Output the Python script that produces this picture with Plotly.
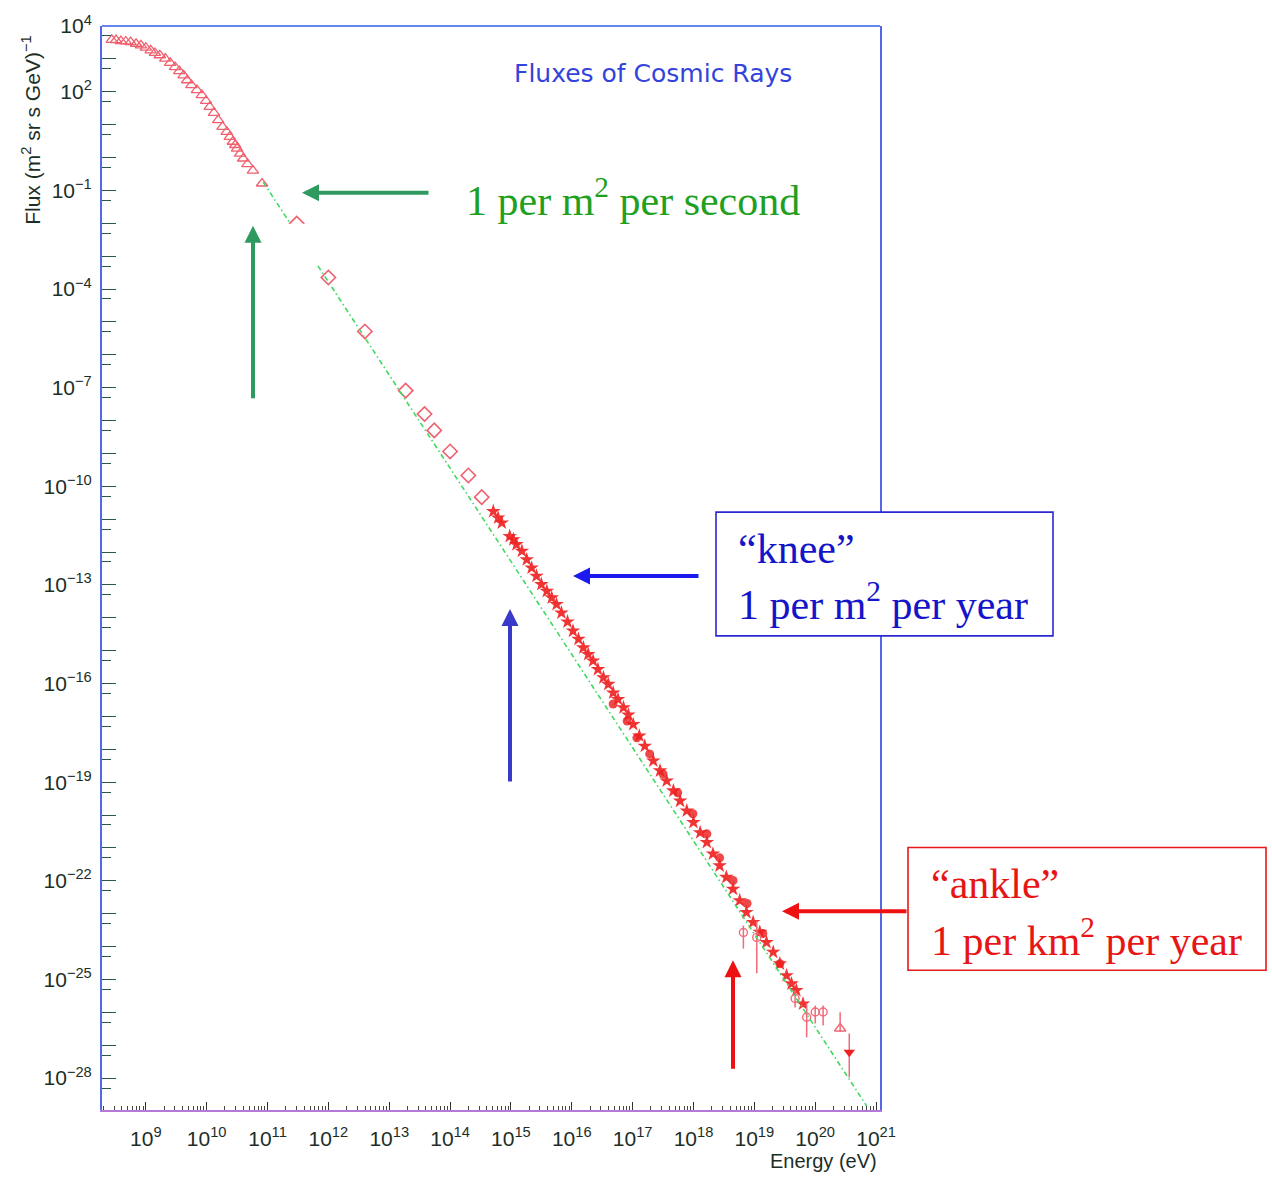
import plotly.graph_objects as go

# ---------------- data (log10 values) ----------------
# low-energy spectrum (open triangles)
tri_logE = [8.44, 8.51, 8.59, 8.67, 8.75, 8.84, 8.92, 9.00, 9.08, 9.15, 9.23, 9.32,
            9.40, 9.48, 9.55, 9.62, 9.68, 9.75, 9.84, 9.92, 9.99, 10.05, 10.12, 10.19,
            10.26, 10.33, 10.38, 10.43, 10.47, 10.50, 10.55, 10.60, 10.67, 10.76, 10.91]
tri_logF = [3.58, 3.57, 3.54, 3.53, 3.51, 3.46, 3.41, 3.34, 3.26, 3.18, 3.11, 3.01,
            2.88, 2.75, 2.63, 2.50, 2.35, 2.20, 2.05, 1.90, 1.72, 1.54, 1.36, 1.14,
            0.93, 0.78, 0.63, 0.48, 0.38, 0.27, 0.12, -0.03, -0.20, -0.40, -0.79]

# direct measurements (open diamonds)
dia_logE = [11.48, 12.00, 12.60, 13.27, 13.58, 13.74, 14.00, 14.30, 14.52]
dia_logF = [-2.01, -3.65, -5.29, -7.09, -7.80, -8.30, -8.94, -9.67, -10.33]

# air-shower data (filled markers)
band_logE = [14.71, 14.79, 14.85, 14.98, 15.04, 15.09, 15.18, 15.26, 15.34, 15.42,
             15.50, 15.59, 15.67, 15.75, 15.83, 15.93, 16.02, 16.11, 16.19, 16.27,
             16.35, 16.43, 16.52, 16.60, 16.68, 16.76, 16.85, 16.93, 17.01, 17.11,
             17.20, 17.34, 17.45, 17.56, 17.67, 17.78, 17.89, 18.00, 18.11, 18.22,
             18.32, 18.43, 18.54, 18.65, 18.76, 18.87, 18.98, 19.09, 19.20, 19.31,
             19.42, 19.53, 19.61, 19.69, 19.80]
band_logF = [-10.76, -10.96, -11.11, -11.52, -11.62, -11.77, -11.97, -12.23, -12.48, -12.73,
             -12.98, -13.19, -13.39, -13.59, -13.85, -14.12, -14.40, -14.65, -14.91, -15.11,
             -15.31, -15.57, -15.82, -16.02, -16.28, -16.48, -16.73, -16.95, -17.24, -17.59,
             -17.90, -18.35, -18.65, -18.96, -19.26, -19.57, -19.87, -20.22, -20.53, -20.83,
             -21.18, -21.54, -21.89, -22.25, -22.60, -22.96, -23.26, -23.56, -23.87, -24.17,
             -24.52, -24.88, -25.13, -25.33, -25.74]

# second air-shower data set (filled circles)
b2_logE = [16.68, 16.91, 17.07, 17.28, 17.50, 17.74, 17.99, 18.22, 18.43, 18.65, 18.88, 19.14, 19.42]
b2_logF = [-16.62, -17.14, -17.65, -18.14, -18.75, -19.32, -19.96, -20.57, -21.30, -21.99,
           -22.69, -23.60, -24.52]

# highest energies with error bars (open circles)
uh_logE = [18.82, 19.04, 19.67, 19.86, 20.00, 20.13]
uh_logF = [-23.57, -23.72, -25.58, -26.15, -25.99, -25.99]
uh_logHi = [-23.36, -23.23, -25.33, -25.73, -25.79, -25.79]
uh_logLo = [-24.06, -24.81, -25.85, -26.76, -26.34, -26.40]

# last two points
end_tri_logE, end_tri_logF, end_tri_hi, end_tri_lo = [20.41], [-26.49], [-26.00], [-26.60]
end_dn_logE, end_dn_logF, end_dn_hi, end_dn_lo = [20.56], [-27.21], [-26.64], [-27.98]

# power-law guide line (end points)
fit_logE = [10.93, 20.85]
fit_logF = [-0.75, -28.86]

# axis ticks
x_label_exps = list(range(9, 22))
y_label_exps = [4, 2, -1, -4, -7, -10, -13, -16, -19, -22, -25, -28]
y_all_exps = list(range(-28, 5))

# ---------------- figure ----------------
W, H = 1272, 1177
L, R, T, B = 102, 880, 24, 1110
Y_RANGE = [-28.97, 4.0]


def px(x):
    return (x - L) / (R - L)


def py(y):
    return (B - y) / (B - T)


def p10(a):
    return [10.0 ** v for v in a]


def errs(f, hi, lo):
    return ([10.0 ** h - 10.0 ** v for v, h in zip(f, hi)],
            [10.0 ** v - 10.0 ** l for v, l in zip(f, lo)])


fig = go.Figure()

# guide line drawn on the overlaid axis (same range) that carries the unlabelled decade ticks
fig.add_trace(go.Scatter(x=p10(fit_logE), y=p10(fit_logF), mode="lines", yaxis="y2",
                         line=dict(color="#3fd860", width=1.6, dash="5px,3px,1.5px,3px"),
                         hoverinfo="skip", showlegend=False))

fig.add_trace(go.Scatter(x=p10(tri_logE), y=p10(tri_logF), mode="markers",
                         marker=dict(symbol="triangle-up-open", size=10, color="#f0606e",
                                     line=dict(width=1.3, color="#f0606e")),
                         showlegend=False))

fig.add_trace(go.Scatter(x=p10(dia_logE), y=p10(dia_logF), mode="markers",
                         marker=dict(symbol="diamond-open", size=11, color="#f0606e",
                                     line=dict(width=1.6, color="#f0606e")),
                         showlegend=False))

fig.add_trace(go.Scatter(x=p10(b2_logE), y=p10(b2_logF), mode="markers",
                         marker=dict(symbol="circle", size=9, color="rgba(235,40,40,0.85)"),
                         showlegend=False))

fig.add_trace(go.Scatter(x=p10(band_logE), y=p10(band_logF), mode="markers",
                         marker=dict(symbol="star", size=11, color="rgba(238,30,30,0.9)",
                                     line=dict(width=0)),
                         showlegend=False))

ep, em = errs(uh_logF, uh_logHi, uh_logLo)
fig.add_trace(go.Scatter(x=p10(uh_logE), y=p10(uh_logF), mode="markers",
                         marker=dict(symbol="circle-open", size=8, color="#f06a78",
                                     line=dict(width=1.4)),
                         error_y=dict(type="data", array=ep, arrayminus=em, color="#f06a78",
                                      thickness=1.5, width=0),
                         showlegend=False))

ep, em = errs(end_tri_logF, end_tri_hi, end_tri_lo)
fig.add_trace(go.Scatter(x=p10(end_tri_logE), y=p10(end_tri_logF), mode="markers",
                         marker=dict(symbol="triangle-up-open", size=10, color="#f06a78",
                                     line=dict(width=1.4)),
                         error_y=dict(type="data", array=ep, arrayminus=em, color="#f06a78",
                                      thickness=1.5, width=0),
                         showlegend=False))

ep, em = errs(end_dn_logF, end_dn_hi, end_dn_lo)
fig.add_trace(go.Scatter(x=p10(end_dn_logE), y=p10(end_dn_logF), mode="markers",
                         marker=dict(symbol="triangle-down", size=10, color="#ee2020"),
                         error_y=dict(type="data", array=ep, arrayminus=em, color="#f06a78",
                                      thickness=1.5, width=0),
                         showlegend=False))

sans = "Liberation Sans, Arial, sans-serif"
serif = "Liberation Serif, Times New Roman, serif"
tick_col = "#1c2e26"
ytick_col = "#2b5648"

x_minor = [m * 10.0 ** e for e in range(8, 21) for m in range(2, 10)]
y_minor = [5 * 10.0 ** (e - 1) for e in y_all_exps]
y_unlabelled = [10.0 ** e for e in y_all_exps if e not in y_label_exps]

fig.update_xaxes(type="log", range=[8.28, 21.065], showgrid=False, zeroline=False,
                 showline=True, linecolor="#b478d8", linewidth=2, mirror=False,
                 tickmode="array", tickvals=[10.0 ** e for e in x_label_exps],
                 ticktext=["10<sup>%d</sup>" % e for e in x_label_exps],
                 ticks="inside", ticklen=8, tickwidth=1.2, tickcolor="#333333",
                 tickfont=dict(family=sans, size=21, color=tick_col),
                 ticklabelstandoff=9,
                 minor=dict(tickvals=x_minor, ticks="inside", ticklen=4, tickwidth=1,
                            tickcolor="#444444"))

fig.update_layout(
    yaxis=dict(type="log", range=Y_RANGE, showgrid=False, zeroline=False,
               showline=True, linecolor="#5566e6", linewidth=2, mirror=True,
               tickmode="array", tickvals=[10.0 ** e for e in y_label_exps],
               ticktext=["10<sup>%s</sup>" % str(e).replace("-", "\u2212") for e in y_label_exps],
               ticks="inside", ticklen=14, tickwidth=1.3, tickcolor=ytick_col,
               tickfont=dict(family=sans, size=21, color=tick_col),
               ticklabelstandoff=4,
               minor=dict(tickvals=y_minor, ticks="inside", ticklen=9, tickwidth=1.2,
                          tickcolor=ytick_col)),
    yaxis2=dict(type="log", range=Y_RANGE, overlaying="y", side="left", anchor="x",
                showgrid=False, zeroline=False, showline=False, showticklabels=False,
                tickmode="array", tickvals=y_unlabelled,
                ticks="inside", ticklen=14, tickwidth=1.3, tickcolor=ytick_col),
)

shapes = [
    # top frame
    dict(type="line", xref="paper", yref="paper", x0=0, x1=1, y0=1, y1=1,
         line=dict(color="#6688ee", width=2), layer="above"),
    # white patch of the pasted slide objects
    dict(type="rect", xref="paper", yref="paper", x0=px(289), x1=px(317), y0=py(270), y1=py(222),
         fillcolor="white", line=dict(width=0), layer="above"),
    # knee box
    dict(type="rect", xref="paper", yref="paper", x0=px(716), x1=px(1053), y0=py(635), y1=py(511),
         fillcolor="white", line=dict(color="#2a2ad0", width=1.6), layer="above"),
    # ankle box
    dict(type="rect", xref="paper", yref="paper", x0=px(908), x1=px(1266), y0=py(970), y1=py(847),
         fillcolor="white", line=dict(color="#e81818", width=1.6), layer="above"),
]

ann = []


def text(xp, yp, s, size, color, family, xanchor="left", yanchor="middle", angle=0):
    ann.append(dict(xref="paper", yref="paper", x=px(xp), y=py(yp), text=s, showarrow=False,
                    xanchor=xanchor, yanchor=yanchor, textangle=angle,
                    font=dict(family=family, size=size, color=color)))


def arrow(tx, ty, hx, hy, color):
    ann.append(dict(xref="paper", yref="paper", x=px(hx), y=py(hy), ax=tx - hx, ay=ty - hy,
                    text="", showarrow=True, arrowhead=2, arrowsize=0.85, arrowwidth=4,
                    arrowcolor=color, standoff=0))


text(512, 72, "Fluxes of Cosmic Rays", 25, "#3343dc", "DejaVu Sans")
text(31, 129, "Flux (m<sup>2</sup> sr s GeV)<sup>\u22121</sup>", 21, tick_col, sans,
     xanchor="center", yanchor="middle", angle=-90)
text(879, 1161, "Energy (eV)", 20, tick_col, sans, xanchor="right")

text(464, 196, "1 per m<sup>2</sup> per second", 42, "#1fa01f", serif)
text(736, 548, "\u201cknee\u201d", 42, "#1414c8", serif)
text(736, 601, "1 per m<sup>2</sup> per year", 42, "#1414c8", serif)
text(929, 884, "\u201cankle\u201d", 42, "#e81515", serif)
text(929, 937, "1 per km<sup>2</sup> per year", 42, "#e81515", serif)

arrow(430, 191, 302, 191, "#2f9a60")
arrow(253, 398, 253, 224, "#2f9a60")
arrow(700, 575, 573, 575, "#1a1aee")
arrow(510, 782, 510, 608, "#3a3ac8")
arrow(908, 911, 782, 911, "#ee1111")
arrow(733, 1070, 733, 960, "#ee1111")

fig.update_layout(width=W, height=H, margin=dict(l=L, r=W - R, t=T, b=H - B),
                  paper_bgcolor="white", plot_bgcolor="white", showlegend=False,
                  shapes=shapes, annotations=ann)

fig.write_html("out.html", config={"displayModeBar": False},
               post_script="document.body.style.margin='0px';")
